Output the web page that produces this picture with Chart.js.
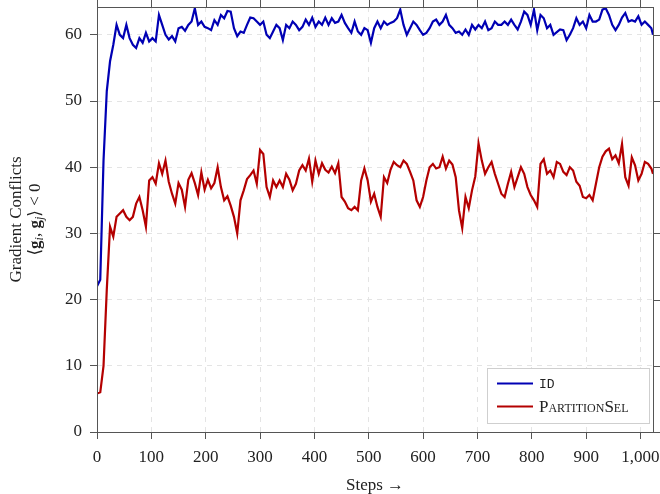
<!DOCTYPE html>
<html>
<head>
<meta charset="utf-8">
<script src="https://cdn.jsdelivr.net/npm/chart.js@4/dist/chart.umd.min.js"></script>
<style>
  html, body { margin: 0; padding: 0; background: #fff; }
</style>
</head>
<body>
<canvas id="conflicts" width="660" height="494"></canvas>
<script>
// training steps, sampled every 6 steps, plus the last one
const steps = [];
for (let s = 0; s <= 1020; s += 6) steps.push(s);
steps.push(1023);

const idValues = [
  22, 23, 41, 51.5, 56, 58.5, 61.5, 60, 59.5, 61.5,
  59.5, 58.5, 58, 59.5, 58.8, 60.3, 59, 59.5, 59, 63,
  61.5, 60, 59.3, 59.8, 59, 61, 61.2, 60.6, 61.5, 62,
  64, 61.5, 62, 61.2, 61, 60.7, 62.2, 61.5, 63, 62.5,
  63.6, 63.5, 61, 59.8, 60.5, 60.3, 61.5, 62.6, 62.5, 62,
  61.5, 62, 60, 59.5, 60.5, 61.5, 61, 59.2, 61.5, 61,
  62, 61.5, 60.7, 61.2, 62.3, 61.5, 62.6, 61.2, 62, 61.5,
  62.6, 61.5, 62.5, 61.8, 62, 63, 61.8, 61, 60.3, 62,
  60.5, 60, 61, 60.7, 58.8, 61, 62, 61, 62, 61.5,
  61.8, 62, 62.5, 63.8, 61.5, 60, 61, 62, 61.5, 60.7,
  60, 60.3, 61, 62, 62.3, 61.5, 62, 63, 61.5, 61,
  60.3, 60.5, 60, 60.8, 60, 61.5, 60.8, 61.5, 61, 62,
  60.7, 61, 62, 61.5, 61.5, 62, 61.5, 62.3, 61.5, 60.8,
  62, 63.5, 63, 61.5, 63.8, 60.7, 63, 62.5, 61, 61.5,
  60, 60.4, 60.8, 60.7, 59.2, 60, 61, 62.5, 61.5, 62,
  61, 63, 62, 62, 62.3, 63.8, 64, 63, 61.5, 60.7,
  61.5, 62.6, 63.3, 62, 62.2, 62, 62.8, 61.5, 62, 61.5,
  61, 60
];

const partitionValues = [
  5.8, 6, 10, 21.5, 31, 29.5, 32.5, 33, 33.5, 32.5,
  32, 32.5, 34.5, 35.5, 33.5, 31, 38, 38.5, 37.5, 40.6,
  39, 41, 37.8, 36, 34.5, 37.6, 36.6, 34, 38.1, 39.1,
  37.6, 35.8, 39.2, 36.6, 38.1, 36.8, 37.6, 40, 37, 35,
  35.6, 34.2, 32.5, 30, 35, 36.5, 38.2, 38.8, 39.5, 37.5,
  42.6, 42, 37, 35.5, 38, 37, 38, 37, 39, 38.1,
  36.5, 37.5, 39.5, 40.3, 39.5, 41.3, 37.8, 41, 39, 40.6,
  39.6, 39.2, 40.1, 39.1, 40.6, 35.5, 34.8, 33.8, 33.5, 34,
  33.5, 38, 39.8, 38, 34.8, 36, 34, 32.5, 38.5, 37.6,
  39.6, 40.8, 40.3, 40, 41, 40.5, 39.3, 38, 35, 34,
  35.5, 38, 40, 40.5, 39.8, 40, 41.6, 39.8, 41, 40.4,
  38.5, 33.5, 30.8, 35.5, 33.8, 36.5, 38.6, 43.6, 41, 39,
  40, 40.8, 39, 37.5, 36, 35.5, 37.5, 39.3, 37, 38.5,
  40, 39, 37, 35.8, 35, 34, 40.5, 41.2, 39, 39.5,
  38.5, 40.8, 40.5, 39.3, 38.8, 40, 39.5, 37.8, 37.2, 35.5,
  35.3, 35.8, 35, 37.5, 40, 41.6, 42.4, 42.8, 41.2, 41.8,
  40.6, 43.5, 38.5, 37.2, 41.5, 40.3, 38, 39, 40.8, 40.5,
  39.8, 39
];

const seriesNames = ['ID', 'PartitionSel'];
const blue = '#0000b4';
const red = '#b40000';
const axisGray = '#555';
const serif = '"Liberation Serif", "DejaVu Serif", serif';

function toPoints(values) {
  return values.map((v, i) => ({ x: steps[i], y: v }));
}

// frame + ticks on top and right (pgfplots style box)
const framePlugin = {
  id: 'frame',
  afterDatasetsDraw(chart) {
    const { ctx, chartArea: a, scales } = chart;
    ctx.save();
    ctx.strokeStyle = axisGray;
    ctx.lineWidth = 1;
    ctx.strokeRect(a.left + 0.5, a.top + 0.5, a.right - a.left, a.bottom - a.top);
    ctx.beginPath();
    scales.x.ticks.forEach(t => {
      const px = Math.round(scales.x.getPixelForValue(t.value)) + 0.5;
      ctx.moveTo(px, a.top - 7);
      ctx.lineTo(px, a.top);
    });
    scales.y.ticks.forEach(t => {
      const py = Math.round(scales.y.getPixelForValue(t.value)) + 0.5;
      ctx.moveTo(a.right, py);
      ctx.lineTo(a.right + 7, py);
    });
    ctx.stroke();
    ctx.restore();
  }
};

// legend box in the lower right corner
const legendPlugin = {
  id: 'legendBox',
  afterDatasetsDraw(chart) {
    const { ctx, chartArea: a } = chart;
    const w = 162, h = 55;
    const x = a.right - 166, y = a.bottom - 9 - h;
    ctx.save();
    ctx.fillStyle = '#fff';
    ctx.fillRect(x, y, w, h);
    ctx.strokeStyle = '#cfcfcf';
    ctx.lineWidth = 1;
    ctx.strokeRect(x + 0.5, y + 0.5, w, h);

    const rows = [
      { color: blue, text: seriesNames[0], font: '13px "Liberation Mono", "DejaVu Sans Mono", monospace', cy: y + 15.5 },
      { color: red, text: seriesNames[1], font: 'small-caps 17px ' + serif, cy: y + 38.5 }
    ];
    rows.forEach(r => {
      ctx.strokeStyle = r.color;
      ctx.lineWidth = 2;
      ctx.beginPath();
      ctx.moveTo(x + 10, r.cy);
      ctx.lineTo(x + 46, r.cy);
      ctx.stroke();
      ctx.fillStyle = '#222';
      ctx.font = r.font;
      ctx.textBaseline = 'middle';
      ctx.fillText(r.text, x + 52, r.cy + 1);
    });
    ctx.restore();
  }
};

// two-line y axis title: "Gradient Conflicts" and <g_i, g_j> < 0
const yTitlePlugin = {
  id: 'yTitle',
  afterDraw(chart) {
    const { ctx, chartArea: a } = chart;
    const cy = (a.top + a.bottom) / 2;
    ctx.save();
    ctx.fillStyle = '#222';
    ctx.textBaseline = 'middle';

    ctx.translate(17, cy);
    ctx.rotate(-Math.PI / 2);
    ctx.font = '17px ' + serif;
    ctx.textAlign = 'center';
    ctx.fillText('Gradient Conflicts', 0, 0);

    const parts = [
      { t: '\u27E8', f: '17px "DejaVu Serif", serif', dy: 0 },
      { t: 'g', f: 'bold 17px ' + serif, dy: 0 },
      { t: 'i', f: 'italic 12px ' + serif, dy: 4 },
      { t: ', ', f: '17px ' + serif, dy: 0 },
      { t: 'g', f: 'bold 17px ' + serif, dy: 0 },
      { t: 'j', f: 'italic 12px ' + serif, dy: 4 },
      { t: '\u27E9', f: '17px "DejaVu Serif", serif', dy: 0 },
      { t: ' < 0', f: '17px ' + serif, dy: 0 }
    ];
    let total = 0;
    parts.forEach(p => { ctx.font = p.f; p.w = ctx.measureText(p.t).width; total += p.w; });
    ctx.textAlign = 'left';
    let px = -total / 2;
    parts.forEach(p => {
      ctx.font = p.f;
      ctx.fillText(p.t, px, 19 + p.dy);
      px += p.w;
    });
    ctx.restore();
  }
};

const ctx = document.getElementById('conflicts').getContext('2d');
const conflictsChart = new Chart(ctx, {
  type: 'line',
  data: {
    datasets: [{
      label: seriesNames[0],
      data: toPoints(idValues),
      borderColor: blue,
      borderWidth: 2.2,
      pointRadius: 0,
      tension: 0
    }, {
      label: seriesNames[1],
      data: toPoints(partitionValues),
      borderColor: red,
      borderWidth: 2.2,
      pointRadius: 0,
      tension: 0
    }]
  },
  options: {
    responsive: false,
    animation: false,
    layout: { padding: { top: 7, right: 7, left: 0, bottom: 0 } },
    plugins: {
      legend: { display: false },
      tooltip: { enabled: false }
    },
    scales: {
      x: {
        type: 'linear',
        min: 0,
        max: 1023,
        afterFit(scale) {
          scale.height = 62;
          scale.paddingLeft = 0;
          scale.paddingRight = 0;
        },
        ticks: {
          stepSize: 100,
          includeBounds: false,
          padding: 8,
          color: '#222',
          font: { family: serif, size: 17 }
        },
        grid: {
          color: '#e4e4e4',
          borderDash: [5, 5],
          tickLength: 7,
          tickColor: axisGray,
          tickBorderDash: []
        },
        border: { display: false, dash: [5, 5] },
        title: {
          display: true,
          text: 'Steps \u2192',
          color: '#222',
          padding: 0,
          font: { family: serif, size: 17, lineHeight: 1 }
        }
      },
      y: {
        min: 0,
        max: 64.2,
        afterFit(scale) {
          scale.width = 97;
          scale.paddingTop = 0;
          scale.paddingBottom = 0;
        },
        ticks: {
          stepSize: 10,
          includeBounds: false,
          padding: 8,
          color: '#222',
          font: { family: serif, size: 17 }
        },
        grid: {
          color: '#e4e4e4',
          borderDash: [5, 5],
          tickLength: 7,
          tickColor: axisGray,
          tickBorderDash: []
        },
        border: { display: false, dash: [5, 5] }
      }
    }
  },
  plugins: [framePlugin, legendPlugin, yTitlePlugin]
});
</script>
</body>
</html>
